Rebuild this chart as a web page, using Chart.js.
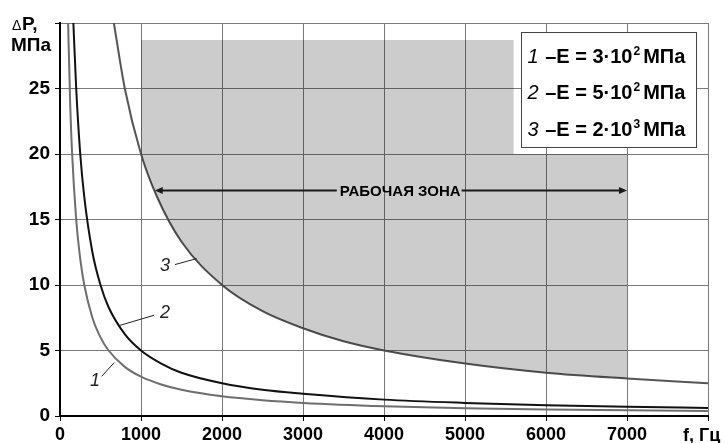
<!DOCTYPE html>
<html>
<head>
<meta charset="utf-8">
<script src="https://cdn.jsdelivr.net/npm/chart.js@4.4.1/dist/chart.umd.min.js"></script>
<style>
  html, body { margin: 0; padding: 0; background: #fff; }
  #wrap { width: 726px; height: 443px; }
</style>
</head>
<body>
<div id="wrap"><canvas id="grafico" width="726" height="443"></canvas></div>
<script>
// Кривая 1 — E = 3·10² МПа (частота, Гц / перепад давления, МПа)
const f1 = [100, 125, 150, 200, 250, 300, 400, 500, 600, 800, 1000, 1250, 1500, 2000, 2500, 3000, 4000, 5000, 6000, 7000, 8000];
const p1 = [30, 24, 20, 15, 12, 10, 7.5, 6, 5, 3.75, 3, 2.4, 2, 1.5, 1.2, 1, 0.75, 0.6, 0.5, 0.43, 0.38];

// Кривая 2 — E = 5·10² МПа
const f2 = [165, 200, 250, 300, 400, 500, 600, 800, 1000, 1250, 1500, 2000, 2500, 3000, 4000, 5000, 6000, 7000, 8000];
const p2 = [30, 25, 20, 16.7, 12.5, 10, 8.3, 6.25, 5, 4, 3.3, 2.5, 2, 1.7, 1.25, 1, 0.83, 0.71, 0.62];

// Кривая 3 — E = 2·10³ МПа
const f3 = [665, 800, 1000, 1200, 1500, 2000, 2500, 3000, 3500, 4000, 5000, 6000, 7000, 8000];
const p3 = [30, 25, 20, 16.7, 13.3, 10, 8, 6.7, 5.7, 5, 4, 3.3, 2.86, 2.5];

// Верхняя граница рабочей зоны (заливка до кривой 3)
const zonaF = [1000, 5600, 5600, 7000];
const zonaP = [28.7, 28.7, 20, 20];

// Деления осей
const xTicks = [0, 1000, 2000, 3000, 4000, 5000, 6000, 7000, 8000];
const yTicks = [0, 5, 10, 15, 20, 25, 30];

// Легенда
const leyNum = ['1', '2', '3'];
const leyBase = ['3·10', '5·10', '2·10'];
const leyExp = ['2', '2', '3'];

const textoZona = 'РАБОЧАЯ ЗОНА';
const FUENTE = '"Liberation Sans", Arial, sans-serif';

const puntos = (fs, ps) => fs.map((f, i) => ({ x: f, y: ps[i] }));

// Подписи и выноски на поле графика (в единицах осей)
const flecha = { f1: 1170, f2: 7000, p: 17.27, fTexto: 4200 };
const etiquetas = [
    { t: '1', f: 432, p: 2.65, l: [515, 3.03, 670, 4.08] },
    { t: '2', f: 1296, p: 7.86, l: [1161, 7.69, 741, 6.92] },
    { t: '3', f: 1296, p: 11.43, l: [1420, 11.56, 1688, 12.02] }
];

function punta(ctx, x, y, dir) {
    ctx.beginPath();
    ctx.moveTo(x, y);
    ctx.lineTo(x - dir * 8, y - 3.5);
    ctx.lineTo(x - dir * 8, y + 3.5);
    ctx.closePath();
    ctx.fill();
}

const anotaciones = {
    id: 'anotaciones',
    afterDatasetsDraw(chart) {
        const { ctx, scales: { x, y }, chartArea } = chart;
        ctx.save();

        // стрелка «рабочая зона»
        const ya = Math.round(y.getPixelForValue(flecha.p)) + 0.5;
        const xa1 = x.getPixelForValue(flecha.f1);
        const xa2 = x.getPixelForValue(flecha.f2);
        const xt = x.getPixelForValue(flecha.fTexto);
        ctx.font = 'bold 15px ' + FUENTE;
        const w = ctx.measureText(textoZona).width;
        ctx.strokeStyle = '#1a1a1a';
        ctx.fillStyle = '#1a1a1a';
        ctx.lineWidth = 2;
        ctx.beginPath();
        ctx.moveTo(xa1 + 4, ya);
        ctx.lineTo(xt - w / 2 - 3, ya);
        ctx.moveTo(xt + w / 2 + 1, ya);
        ctx.lineTo(xa2 - 4, ya);
        ctx.stroke();
        punta(ctx, xa1, ya, -1);
        punta(ctx, xa2, ya, 1);
        ctx.fillStyle = '#000';
        ctx.textAlign = 'center';
        ctx.textBaseline = 'middle';
        ctx.fillText(textoZona, xt, ya + 1);

        // номера кривых с выносками
        ctx.font = 'italic 18px ' + FUENTE;
        ctx.lineWidth = 1;
        ctx.strokeStyle = '#222';
        etiquetas.forEach(e => {
            ctx.fillStyle = '#222';
            ctx.fillText(e.t, x.getPixelForValue(e.f), y.getPixelForValue(e.p));
            ctx.beginPath();
            ctx.moveTo(x.getPixelForValue(e.l[0]), y.getPixelForValue(e.l[1]));
            ctx.lineTo(x.getPixelForValue(e.l[2]), y.getPixelForValue(e.l[3]));
            ctx.stroke();
        });

        // легенда
        const bx = Math.round(chartArea.right - 187) + 0.5;
        const by = Math.round(chartArea.top + 9) + 0.5;
        ctx.fillStyle = '#fff';
        ctx.fillRect(bx, by, 175, 115);
        ctx.strokeStyle = '#444';
        ctx.strokeRect(bx, by, 175, 115);
        ctx.textAlign = 'left';
        ctx.textBaseline = 'alphabetic';
        ctx.fillStyle = '#000';
        leyNum.forEach((n, i) => {
            const base = by + 30 + i * 36.5;
            let cx = bx + 6;
            ctx.font = 'italic 20px ' + FUENTE;
            ctx.fillText(n, cx, base);
            cx += ctx.measureText(n + ' ').width + 1;
            ctx.font = 'bold 20px ' + FUENTE;
            const t1 = '–E = ' + leyBase[i];
            ctx.fillText(t1, cx, base);
            cx += ctx.measureText(t1).width;
            ctx.font = 'bold 12px ' + FUENTE;
            ctx.fillText(leyExp[i], cx + 1, base - 8);
            cx += ctx.measureText(leyExp[i]).width + 4;
            ctx.font = 'bold 20px ' + FUENTE;
            ctx.fillText('МПа', cx, base);
        });
        ctx.restore();
    },
    afterDraw(chart) {
        const { ctx, chartArea } = chart;
        ctx.save();
        ctx.fillStyle = '#000';
        ctx.textBaseline = 'middle';
        ctx.textAlign = 'left';
        // подпись оси Y
        ctx.font = '14px ' + FUENTE;
        ctx.fillText('Δ', 12, 26);
        ctx.font = 'bold 19px ' + FUENTE;
        ctx.fillText('P,', 22, 25);
        ctx.fillText('МПа', 11, 46);
        // подпись оси X
        ctx.font = 'bold 18px ' + FUENTE;
        ctx.fillText('f, Гц', chartArea.right - 25, 436);
        ctx.restore();
    }
};

const ctx = document.getElementById('grafico').getContext('2d');
const grafico = new Chart(ctx, {
    type: 'line',
    data: {
        datasets: [
            {
                label: 'зона',
                data: puntos(zonaF, zonaP),
                borderWidth: 0,
                pointRadius: 0,
                backgroundColor: 'rgba(0,0,0,0.2)',
                fill: { target: 3 }
            },
            {
                label: '1',
                data: puntos(f1, p1),
                borderColor: '#6e6e6e',
                borderWidth: 2,
                pointRadius: 0,
                cubicInterpolationMode: 'monotone',
                fill: false
            },
            {
                label: '2',
                data: puntos(f2, p2),
                borderColor: '#111',
                borderWidth: 2,
                pointRadius: 0,
                cubicInterpolationMode: 'monotone',
                fill: false
            },
            {
                label: '3',
                data: puntos(f3, p3),
                borderColor: '#555',
                borderWidth: 2,
                pointRadius: 0,
                cubicInterpolationMode: 'monotone',
                fill: false
            }
        ]
    },
    options: {
        responsive: false,
        animation: false,
        devicePixelRatio: 1,
        layout: { padding: { top: 23, right: 18, left: 0, bottom: 0 } },
        plugins: {
            legend: { display: false },
            tooltip: { enabled: false }
        },
        scales: {
            x: {
                type: 'linear',
                min: 0,
                max: 8000,
                afterBuildTicks: s => { s.ticks = xTicks.map(v => ({ value: v })); },
                afterFit: s => { s.height = 27; },
                ticks: {
                    callback: v => (v === 8000 ? '' : String(v)),
                    font: { family: FUENTE, size: 18, weight: 'bold' },
                    color: '#000',
                    padding: 3,
                    maxRotation: 0,
                    autoSkip: false
                },
                grid: { color: '#7a7a7a', lineWidth: 1, tickLength: 5, tickColor: '#000' },
                border: { color: '#000', width: 2 }
            },
            y: {
                type: 'linear',
                min: 0,
                max: 30,
                afterBuildTicks: s => { s.ticks = yTicks.map(v => ({ value: v })); },
                afterFit: s => { s.width = 60; },
                ticks: {
                    callback: v => (v === 30 ? '' : String(v)),
                    font: { family: FUENTE, size: 19, weight: 'bold' },
                    color: '#000',
                    padding: 5,
                    autoSkip: false
                },
                grid: { color: '#7a7a7a', lineWidth: 1, tickLength: 5, tickColor: '#000' },
                border: { color: '#000', width: 2 }
            }
        }
    },
    plugins: [anotaciones]
});
</script>
</body>
</html>
